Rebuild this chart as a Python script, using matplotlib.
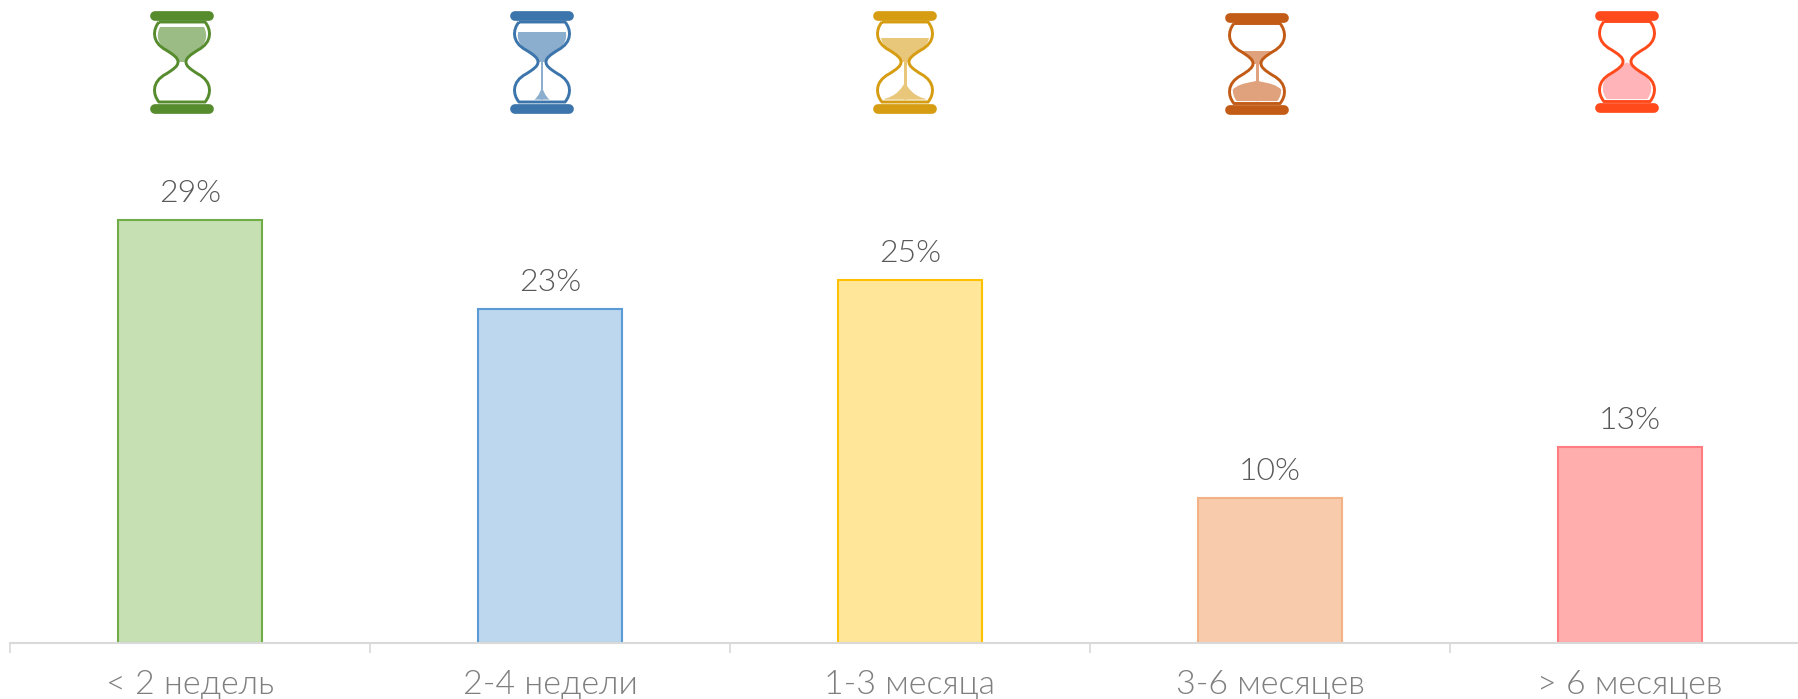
# Bar chart of waiting time with hourglass icons above each bar

import matplotlib
matplotlib.use('Agg')
import matplotlib.pyplot as plt
from matplotlib.lines import Line2D
from matplotlib.patches import PathPatch, Rectangle
from matplotlib.path import Path
from matplotlib.transforms import Affine2D

plt.rcParams['font.family'] = ['Lato', 'Noto Sans', 'DejaVu Sans']

# Data
categories = ['< 2 недель', '2-4 недели', '1-3 месяца', '3-6 месяцев', '> 6 месяцев']
values = [29, 22.85, 24.85, 9.9, 13.4]

# Colours
fill_colors = ['#C6E0B4', '#BDD7EE', '#FFE699', '#F8CBAD', '#FFADAD']
edge_colors = ['#70AD47', '#5B9BD5', '#FFC000', '#F4B183', '#FF7C80']
icon_colors = ['#568B2E', '#3C75AB', '#D69D12', '#C25B16', '#FF4A1C']
sand_colors = ['#9CBC85', '#8BADCE', '#E8C67A', '#DFA27C', '#FFB4B9']

# Hourglass settings, in pixels around the icon centre
icon_dx = [-8, -8, -5, -13, -3]
icon_y = [62, 62, 62, 63.5, 61.5]
top_sand = [35, 30, 24, 13, None]
stream = [0, 1.0, 1.5, 1.5, 0]
piles = [
    None,
    (8, (-3, -34), (-1, -28)),
    (26, (-6, -35), (-3, -24)),
    (30, (-27, -18), (-6, -20)),
    (32, (-24, -8), (-6, -4)),
]

PX_PER_UNIT = 14.6
fig = plt.figure(figsize=(17.98, 6.99), dpi=100)
ax = fig.add_axes([10 / 1798, 56 / 699, 1800 / 1798, 643 / 699])

# Bars
ax.bar(range(5), values, width=0.4, color=fill_colors, edgecolor=edge_colors, linewidth=1.5, zorder=2)
ax.set_xlim(-0.5, 4.5)
ax.set_ylim(0, 643 / PX_PER_UNIT)

# Value labels
for i, v in enumerate(values):
    ax.annotate(f'{v:.0f}%', (i, v), xytext=(0, 13), textcoords='offset points', ha='center', va='baseline',
                fontsize=23, color='#595959', fontweight=300)

# Axis styling
for s in ['top', 'left', 'right']:
    ax.spines[s].set_visible(False)
ax.spines['bottom'].set_color('#D9D9D9')
ax.spines['bottom'].set_linewidth(1.5)
ax.spines['bottom'].set_zorder(3)
ax.set_yticks([])
ax.set_xticks(range(5))
ax.set_xticklabels(categories, fontsize=24.5, color='#7F7F7F', va='baseline', fontweight=300)
ax.set_xticks([-0.5, 0.5, 1.5, 2.5, 3.5, 4.5], minor=True)
ax.tick_params(axis='x', which='major', length=0, pad=37)
ax.tick_params(axis='x', which='minor', length=7.2, width=1.2, color='#D9D9D9')

# Hourglass outline, built from the right half and mirrored
glass_verts = [(-23, 40), (23, 40),
               (29, 33), (31, 20), (16, 12),
               (8, 7), (4, 4), (4, 0),
               (4, -4), (8, -7), (16, -12),
               (31, -20), (29, -33), (23, -40),
               (-23, -40),
               (-29, -33), (-31, -20), (-16, -12),
               (-8, -7), (-4, -4), (-4, 0),
               (-4, 4), (-8, 7), (-16, 12),
               (-31, 20), (-29, 33), (-23, 40)]
glass_codes = [Path.MOVETO, Path.LINETO] + [Path.CURVE4] * 12 + [Path.LINETO] + [Path.CURVE4] * 12
glass = Path(glass_verts, glass_codes)
inner = glass.transformed(Affine2D().scale(0.88, 0.94))

fig.canvas.draw()
for i in range(5):
    cx = ax.transData.transform((i, 0))[0] + icon_dx[i]
    tr = Affine2D().translate(cx, 699 - icon_y[i])
    col = icon_colors[i]

    # sand in the top bulb
    if top_sand[i] is not None:
        p = Rectangle((-30, 0), 60, top_sand[i], facecolor=sand_colors[i], edgecolor='none', transform=tr)
        p.set_clip_path(inner, tr)
        fig.add_artist(p)

    # falling stream
    if stream[i] > 0:
        p = Rectangle((-stream[i], -38), stream[i] * 2, 38, facecolor=sand_colors[i], edgecolor='none', transform=tr)
        p.set_clip_path(inner, tr)
        fig.add_artist(p)

    # pile in the bottom bulb
    if piles[i] is not None:
        w, c1, c2 = piles[i]
        top_y = c2[1] + 3
        pile = Path([(-w, -38), c1, c2, (0, top_y),
                     (-c2[0], c2[1]), (-c1[0], c1[1]), (w, -38), (-w, -38)],
                    [Path.MOVETO] + [Path.CURVE4] * 6 + [Path.CLOSEPOLY])
        p = PathPatch(pile, facecolor=sand_colors[i], edgecolor='none', transform=tr)
        p.set_clip_path(inner, tr)
        fig.add_artist(p)

    # glass outline and the two end caps
    fig.add_artist(PathPatch(glass, facecolor='none', edgecolor=col, linewidth=2.1, transform=tr))
    for cap_y in [46, -46.5]:
        fig.add_artist(Line2D([-27, 27], [cap_y, cap_y], color=col, linewidth=7, solid_capstyle='round', transform=tr))

fig.savefig('out.png', dpi=100)
